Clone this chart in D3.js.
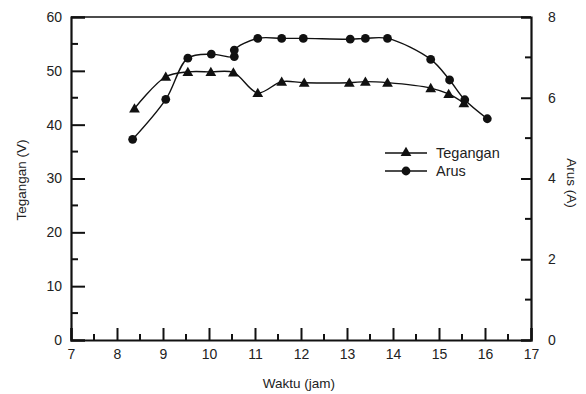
<!DOCTYPE html>
<html>
<head>
<meta charset="utf-8">
<script src="https://cdn.jsdelivr.net/npm/d3@7"></script>
<style>
  html, body { margin: 0; padding: 0; background: #fff; }
  svg { display: block; }
  text { font-family: "Liberation Sans", Arial, sans-serif; fill: #222; }
</style>
</head>
<body>
<svg id="chart" width="586" height="394"></svg>
<script>
// Waktu pengukuran (jam) dan hasil pengukuran
const waktuTegangan = [8.38, 9.06, 9.54, 10.04, 10.53, 11.06, 11.58, 12.07, 13.05, 13.40, 13.88, 14.82, 15.21, 15.54];
const tegangan      = [43.0, 48.9, 49.8, 49.8, 49.7, 45.9, 48.0, 47.8, 47.8, 48.0, 47.8, 46.8, 45.7, 44.0];

const waktuArus = [8.34, 9.06, 9.54, 10.05, 10.55, 10.55, 11.06, 11.58, 12.05, 13.07, 13.40, 13.88, 14.82, 15.23, 15.56, 16.05];
const arus      = [4.97, 5.96, 6.98, 7.08, 7.02, 7.18, 7.47, 7.47, 7.47, 7.45, 7.47, 7.47, 6.95, 6.44, 5.95, 5.48];

const xTicks = [7, 8, 9, 10, 11, 12, 13, 14, 15, 16, 17];
const yLeftTicks = [0, 10, 20, 30, 40, 50, 60];
const yRightTicks = [0, 2, 4, 6, 8];

const svg = d3.select("#chart");
const m = { left: 71, right: 531, top: 17, bottom: 340 };

const x = d3.scaleLinear().domain([7, 17]).range([m.left, m.right]);
const yL = d3.scaleLinear().domain([0, 60]).range([m.bottom, m.top]);
const yR = d3.scaleLinear().domain([0, 8]).range([m.bottom, m.top]);

// frame: thin top edge
svg.append("line")
  .attr("x1", m.left).attr("x2", m.right)
  .attr("y1", m.top).attr("y2", m.top)
  .attr("stroke", "#111").attr("stroke-width", 1.5);

// bottom axis, ticks pointing inward
const xMinor = d3.range(7.5, 17, 1);
const gx = svg.append("g").attr("transform", `translate(0,${m.bottom})`);
gx.call(d3.axisBottom(x).tickValues(xTicks).tickSize(-12).tickFormat(d3.format("d")));
gx.selectAll(".minor").data(xMinor).join("line")
  .attr("x1", d => x(d)).attr("x2", d => x(d)).attr("y1", 0).attr("y2", -6);

// left axis
const yLMinor = d3.range(5, 60, 10);
const gyl = svg.append("g").attr("transform", `translate(${m.left},0)`);
gyl.call(d3.axisLeft(yL).tickValues(yLeftTicks).tickSize(-14).tickFormat(d3.format("d")));
gyl.selectAll(".minor").data(yLMinor).join("line")
  .attr("y1", d => yL(d)).attr("y2", d => yL(d)).attr("x1", 0).attr("x2", 7);

// right axis
const yRMinor = d3.range(1, 8, 2);
const gyr = svg.append("g").attr("transform", `translate(${m.right},0)`);
gyr.call(d3.axisRight(yR).tickValues(yRightTicks).tickSize(-10).tickFormat(d3.format("d")));
gyr.selectAll(".minor").data(yRMinor).join("line")
  .attr("y1", d => yR(d)).attr("y2", d => yR(d)).attr("x1", 0).attr("x2", -6);

[gx, gyl, gyr].forEach(g => {
  g.select(".domain").attr("stroke", "#111").attr("stroke-width", 2.2);
  g.selectAll("line").attr("stroke", "#111").attr("stroke-width", 2);
  g.selectAll(".tick text").attr("font-size", 14).attr("fill", "#333")
    .attr("font-family", "'Liberation Sans', Arial, sans-serif");
});
gx.selectAll(".tick text").attr("dy", "0.71em").attr("y", 9);
gyl.selectAll(".tick text").attr("x", -9);
gyr.selectAll(".tick text").attr("x", 17);

// axis titles
svg.append("text").attr("x", 299).attr("y", 388).attr("text-anchor", "middle")
  .attr("font-size", 13.5).text("Waktu (jam)");
svg.append("text").attr("transform", `translate(26,180) rotate(-90)`).attr("text-anchor", "middle")
  .attr("font-size", 13.5).text("Tegangan (V)");
svg.append("text").attr("transform", `translate(567,183) rotate(90)`).attr("text-anchor", "middle")
  .attr("font-size", 13.5).text("Arus (A)");

const curve = d3.curveCatmullRom.alpha(0.5);
const triangle = d3.symbol().type(d3.symbolTriangle).size(50);

// Tegangan series
const vData = waktuTegangan.map((t, i) => [t, tegangan[i]]);
svg.append("path").datum(vData)
  .attr("fill", "none").attr("stroke", "#111").attr("stroke-width", 1.4)
  .attr("d", d3.line().x(d => x(d[0])).y(d => yL(d[1])).curve(curve));
svg.selectAll(".tri").data(vData).join("path").attr("class", "tri")
  .attr("transform", d => `translate(${x(d[0])},${yL(d[1]) + 1})`)
  .attr("d", triangle).attr("fill", "#111");

// Arus series
const aData = waktuArus.map((t, i) => [t, arus[i]]);
svg.append("path").datum(aData)
  .attr("fill", "none").attr("stroke", "#111").attr("stroke-width", 1.4)
  .attr("d", d3.line().x(d => x(d[0])).y(d => yR(d[1])).curve(curve));
svg.selectAll(".dot").data(aData).join("circle").attr("class", "dot")
  .attr("cx", d => x(d[0])).attr("cy", d => yR(d[1])).attr("r", 4.4).attr("fill", "#111");

// legend
const legend = [
  { label: "Tegangan", y: 153, mark: "tri" },
  { label: "Arus", y: 171, mark: "dot" }
];
const lg = svg.append("g");
legend.forEach(l => {
  lg.append("line").attr("x1", 385).attr("x2", 427).attr("y1", l.y).attr("y2", l.y)
    .attr("stroke", "#111").attr("stroke-width", 1.4);
  if (l.mark === "tri") {
    lg.append("path").attr("transform", `translate(406,${l.y})`).attr("d", triangle).attr("fill", "#111");
  } else {
    lg.append("circle").attr("cx", 406).attr("cy", l.y).attr("r", 4.4).attr("fill", "#111");
  }
  lg.append("text").attr("x", 436).attr("y", l.y).attr("dy", "0.35em")
    .attr("font-size", 14.5).text(l.label);
});
</script>
</body>
</html>
